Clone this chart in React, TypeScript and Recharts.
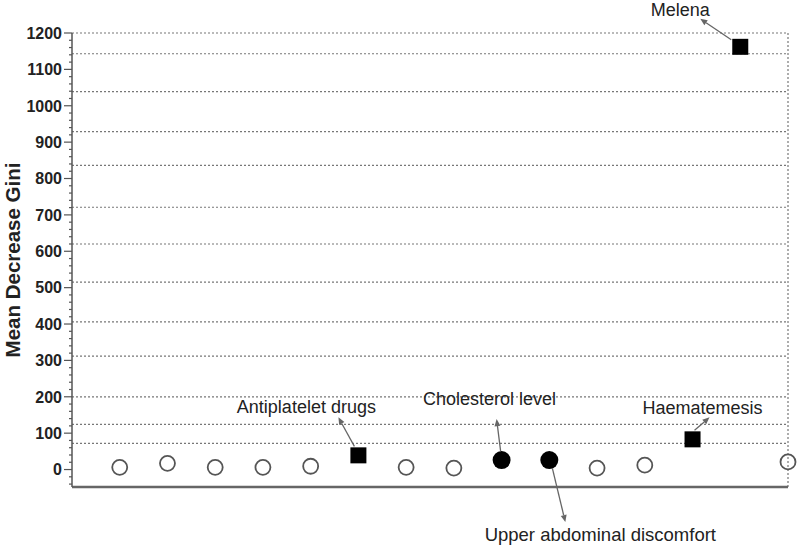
import { ScatterChart, Scatter, XAxis, YAxis, ReferenceLine } from "recharts";

// variable index along the x axis (no tick labels in the figure)
const pointIds = [1, 2, 3, 4, 5, 6, 7, 8, 9, 10, 11, 12, 13, 14, 15];
const giniValues = [6, 17, 6, 6, 9, 39, 6, 4, 26, 26, 4, 12, 83, 1162, 21];
const markerKinds = [
  "open", "open", "open", "open", "open", "square", "open", "open",
  "filled", "filled", "open", "open", "square", "square", "open",
];
const calloutLabels = [
  "", "", "", "", "", "Antiplatelet drugs", "", "",
  "Cholesterol level", "Upper abdominal discomfort", "", "", "Haematemesis", "Melena", "",
];
const majorTicks = [0, 100, 200, 300, 400, 500, 600, 700, 800, 900, 1000, 1100, 1200];
const gridValues = [1200, 1143, 1039, 929, 836, 721, 620, 515, 406, 312, 200, 124, 72];
const yMin = -48;

const FONT = '"Liberation Sans", Arial, sans-serif';

// pixel offsets of each callout relative to its marker
const calloutLayout: Record<string, { tx: number; ty: number; from: number[]; to: number[] }> = {
  Melena: { tx: -60, ty: -31, from: [-9, -7], to: [-40, -28] },
  "Antiplatelet drugs": { tx: -52, ty: -42, from: [-4, -9], to: [-20, -38] },
  "Cholesterol level": { tx: -12, ty: -55, from: [-1, -9], to: [-5, -41] },
  Haematemesis: { tx: 10, ty: -25, from: [2, -9], to: [17, -22] },
  "Upper abdominal discomfort": { tx: 51, ty: 81, from: [3, 8], to: [16, 62] },
};

const minorTicks: number[] = [];
for (let v = -40; v <= 1200; v += 20) minorTicks.push(v);

const points = pointIds.map((id, i) => ({
  id,
  gini: giniValues[i],
  kind: markerKinds[i],
  label: calloutLabels[i],
}));

function Arrow({ x1, y1, x2, y2 }: { x1: number; y1: number; x2: number; y2: number }) {
  const ang = Math.atan2(y2 - y1, x2 - x1);
  const len = 7;
  const w = 3;
  const bx = x2 - len * Math.cos(ang);
  const by = y2 - len * Math.sin(ang);
  const px = -Math.sin(ang) * w;
  const py = Math.cos(ang) * w;
  return (
    <g>
      <line x1={x1} y1={y1} x2={bx} y2={by} stroke="#666" strokeWidth={1.3} />
      <polygon points={`${x2},${y2} ${bx + px},${by + py} ${bx - px},${by - py}`} fill="#666" />
    </g>
  );
}

function Marker(props: any) {
  const { cx, cy, payload } = props;
  if (cx == null || cy == null) return null;
  let mark;
  if (payload.kind === "square") {
    mark = <rect x={cx - 8} y={cy - 8} width={16} height={16} fill="#000" />;
  } else if (payload.kind === "filled") {
    mark = <circle cx={cx} cy={cy} r={9} fill="#000" />;
  } else {
    mark = <circle cx={cx} cy={cy} r={7.5} fill="none" stroke="#555" strokeWidth={1.8} />;
  }
  const c = payload.label ? calloutLayout[payload.label] : null;
  return (
    <g>
      {mark}
      {c && (
        <g>
          <Arrow x1={cx + c.from[0]} y1={cy + c.from[1]} x2={cx + c.to[0]} y2={cy + c.to[1]} />
          <text
            x={cx + c.tx}
            y={cy + c.ty}
            textAnchor="middle"
            fontFamily={FONT}
            fontSize={payload.label === "Upper abdominal discomfort" ? 18.5 : 18}
            fill="#222"
          >
            {payload.label}
          </text>
        </g>
      )}
    </g>
  );
}

function YTick(props: any) {
  const { x, y, payload } = props;
  const v = payload.value;
  const major = majorTicks.includes(v);
  return (
    <g>
      <line x1={x - (major ? 8 : 3)} x2={x} y1={y} y2={y} stroke="#555" strokeWidth={1.2} />
      {major && (
        <text
          x={x - 10}
          y={y}
          dy="0.36em"
          textAnchor="end"
          fontFamily={FONT}
          fontWeight="bold"
          fontSize={16}
          fill="#222"
        >
          {v}
        </text>
      )}
    </g>
  );
}

export default function App() {
  return (
    <div style={{ position: "absolute", left: 0, top: 0, width: 800, height: 547, background: "#fff" }}>
      <ScatterChart width={800} height={547} margin={{ top: 33, right: 12, bottom: 60, left: 0 }}>
        <XAxis
          type="number"
          dataKey="id"
          domain={[0, 15]}
          tick={false}
          tickLine={false}
          axisLine={false}
          height={0}
        />
        <YAxis
          type="number"
          dataKey="gini"
          domain={[yMin, 1200]}
          ticks={minorTicks}
          interval={0}
          width={72}
          tickSize={0}
          tickMargin={0}
          tickLine={false}
          tick={<YTick />}
          axisLine={{ stroke: "#555", strokeWidth: 1.5 }}
          label={{
            content: (p: any) => {
              const vb = p.viewBox || { x: 0, y: 33, width: 72, height: 454 };
              const lx = vb.x + 20;
              const ly = vb.y + vb.height / 2;
              return (
                <text
                  x={lx}
                  y={ly}
                  transform={`rotate(-90 ${lx} ${ly})`}
                  textAnchor="middle"
                  fontFamily={FONT}
                  fontWeight="bold"
                  fontSize={20.5}
                  fill="#222"
                >
                  Mean Decrease Gini
                </text>
              );
            },
          }}
        />
        {gridValues.map((g) => (
          <ReferenceLine key={g} y={g} stroke="#777" strokeDasharray="2 2" strokeWidth={1.2} />
        ))}
        <ReferenceLine x={15} stroke="#777" strokeDasharray="2 2" strokeWidth={1.2} />
        <ReferenceLine y={yMin} stroke="#666" strokeWidth={2.4} ifOverflow="visible" />
        <Scatter data={points} shape={<Marker />} isAnimationActive={false} />
      </ScatterChart>
    </div>
  );
}
